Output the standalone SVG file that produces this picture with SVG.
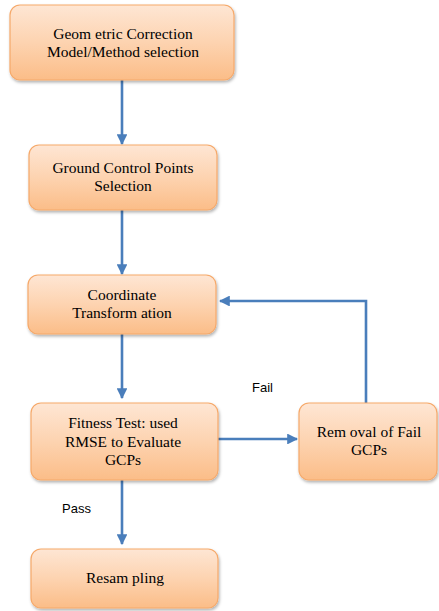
<svg xmlns="http://www.w3.org/2000/svg" width="439" height="611" viewBox="0 0 439 611">
<defs>
<linearGradient id="g" x1="0" y1="0" x2="0" y2="1">
<stop offset="0" stop-color="#fee6d4"/>
<stop offset="0.5" stop-color="#fdd3b0"/>
<stop offset="1" stop-color="#fbbd88"/>
</linearGradient>
<filter id="sh" x="-10%" y="-10%" width="120%" height="130%">
<feDropShadow dx="1" dy="2" stdDeviation="1.5" flood-color="#000" flood-opacity="0.3"/>
</filter>
<marker id="ah" viewBox="0 0 10 10" refX="9" refY="5" markerWidth="4.2" markerHeight="4.2" orient="auto" markerUnits="strokeWidth">
<path d="M0,0 L10,5 L0,10 z" fill="#4a7ebb"/>
</marker>
</defs>
<style>
.box{fill:url(#g);stroke:#f6a96a;stroke-width:1.2;filter:url(#sh)}
.t{font-family:"Liberation Serif","Times New Roman",serif;font-size:15.5px;fill:#000;text-anchor:middle}
.l{font-family:"Liberation Sans",Arial,sans-serif;font-size:13px;fill:#000}
.c{stroke:#4a7ebb;stroke-width:2.6;fill:none}
</style>
<rect width="439" height="611" fill="#fff"/>
<g id="connectors">
<line class="c" x1="122" y1="80" x2="122" y2="144" marker-end="url(#ah)"/>
<line class="c" x1="122" y1="210" x2="122" y2="274" marker-end="url(#ah)"/>
<line class="c" x1="122" y1="334" x2="122" y2="398" marker-end="url(#ah)"/>
<line class="c" x1="122" y1="480" x2="122" y2="544" marker-end="url(#ah)"/>
<line class="c" x1="218" y1="439" x2="297" y2="439" marker-end="url(#ah)"/>
<polyline class="c" points="366,403 366,301 220,301" marker-end="url(#ah)"/>
<text class="l" x="252" y="392">Fail</text>
<text class="l" x="62" y="513">Pass</text>
</g>
<g id="n1">
<rect class="box" x="10" y="5" width="224" height="75" rx="10"/>
<text class="t" x="123" y="39">Geom etric Correction</text>
<text class="t" x="123" y="57">Model/Method selection</text>
</g>
<g id="n2">
<rect class="box" x="29" y="145" width="188" height="65" rx="10"/>
<text class="t" x="123" y="173">Ground Control Points</text>
<text class="t" x="123" y="191">Selection</text>
</g>
<g id="n3">
<rect class="box" x="28" y="275" width="188" height="59" rx="10"/>
<text class="t" x="122" y="300">Coordinate</text>
<text class="t" x="122" y="318">Transform ation</text>
</g>
<g id="n4">
<rect class="box" x="31" y="403" width="187" height="77" rx="10"/>
<text class="t" x="123" y="428">Fitness Test: used</text>
<text class="t" x="123" y="447">RMSE to Evaluate</text>
<text class="t" x="123" y="465">GCPs</text>
</g>
<g id="n5">
<rect class="box" x="299" y="403" width="138" height="77" rx="10"/>
<text class="t" x="369" y="437">Rem oval of Fail</text>
<text class="t" x="369" y="455">GCPs</text>
</g>
<g id="n6">
<rect class="box" x="31" y="549" width="187" height="59" rx="10"/>
<text class="t" x="125" y="583">Resam pling</text>
</g>
</svg>
